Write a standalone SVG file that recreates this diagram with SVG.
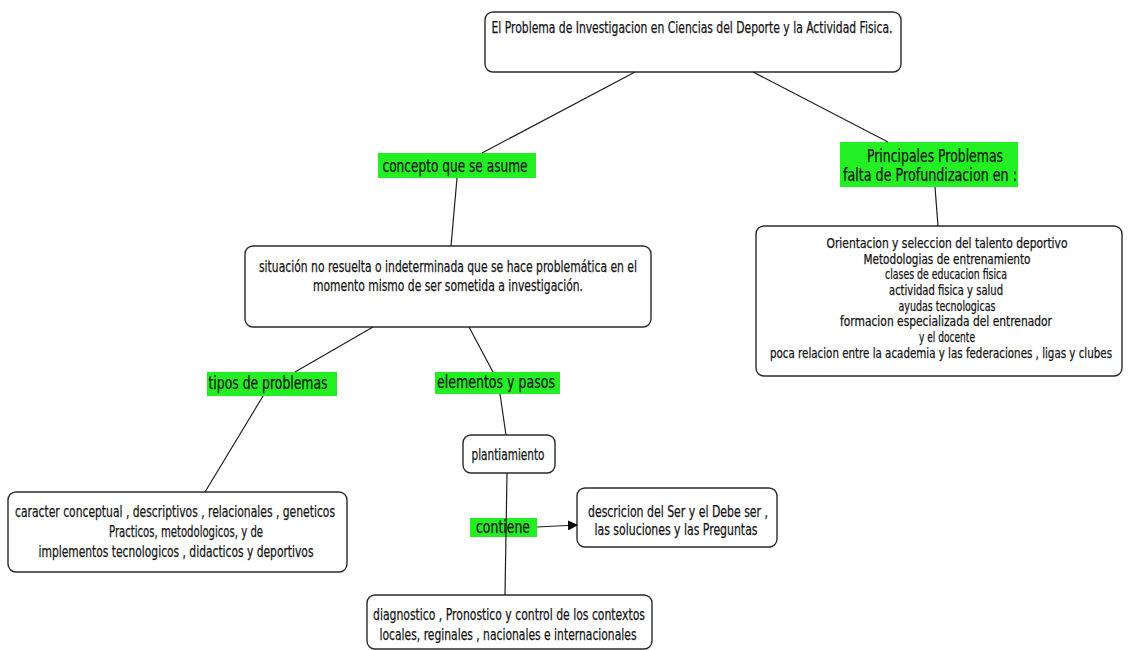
<svg xmlns="http://www.w3.org/2000/svg" width="1131" height="650" viewBox="0 0 1131 650">
<style>
.box{fill:#fff;stroke:#2b2b2b;stroke-width:1.4}
.lbl{fill:#22f022;stroke:none}
.t,.tl,.ts{font-family:"DejaVu Sans Condensed","DejaVu Sans","Liberation Sans",sans-serif;font-stretch:condensed;fill:#151515;stroke:#151515;stroke-width:0.25;text-anchor:middle}
.t{font-size:15px}
.ts{font-size:14px}
.tl{font-size:17px}
.c{stroke:#1e1e1e;stroke-width:1.2;fill:none}
</style>
<defs>
<marker id="arr" markerWidth="10" markerHeight="10" refX="9" refY="5" orient="auto" markerUnits="userSpaceOnUse">
<path d="M0,0 L10,5 L0,10 Z" fill="#000"/>
</marker>
</defs>
<rect width="1131" height="650" fill="#fff"/>

<g id="n-title">
<rect class="box" x="485" y="12" width="416" height="60" rx="8"/>
<text class="t" x="692" y="33" textLength="401" lengthAdjust="spacingAndGlyphs">El Problema de Investigacion en Ciencias del Deporte y la Actividad Fisica.</text>
</g>

<g id="n-concepto">
<rect class="lbl" x="378" y="153" width="158" height="25"/>
<text class="tl" x="455" y="172" textLength="145" lengthAdjust="spacingAndGlyphs">concepto que se asume</text>
</g>

<g id="n-principales">
<rect class="lbl" x="840" y="142" width="178" height="45"/>
<text class="tl" x="935" y="162" textLength="136" lengthAdjust="spacingAndGlyphs">Principales Problemas</text>
<text class="tl" x="930" y="181" textLength="174" lengthAdjust="spacingAndGlyphs">falta de Profundizacion en :</text>
</g>

<g id="n-situacion">
<rect class="box" x="245" y="246" width="406" height="81" rx="8"/>
<text class="t" x="448" y="272" textLength="378" lengthAdjust="spacingAndGlyphs">situación no resuelta o indeterminada que se hace problemática en el</text>
<text class="t" x="448" y="291" textLength="270" lengthAdjust="spacingAndGlyphs">momento mismo de ser sometida a investigación.</text>
</g>

<g id="n-lista">
<rect class="box" x="756" y="226" width="366" height="150" rx="8"/>
<text class="ts" x="947" y="248" textLength="241" lengthAdjust="spacingAndGlyphs">Orientacion y seleccion del talento deportivo</text>
<text class="ts" x="947" y="264" textLength="167" lengthAdjust="spacingAndGlyphs">Metodologias de entrenamiento</text>
<text class="ts" x="946" y="279" textLength="122" lengthAdjust="spacingAndGlyphs">clases de educacion fisica</text>
<text class="ts" x="946" y="295" textLength="114" lengthAdjust="spacingAndGlyphs">actividad fisica y salud</text>
<text class="ts" x="947" y="311" textLength="97" lengthAdjust="spacingAndGlyphs">ayudas tecnologicas</text>
<text class="ts" x="946" y="326" textLength="212" lengthAdjust="spacingAndGlyphs">formacion especializada del entrenador</text>
<text class="ts" x="947" y="342" textLength="56" lengthAdjust="spacingAndGlyphs">y el docente</text>
<text class="ts" x="941" y="358" textLength="342" lengthAdjust="spacingAndGlyphs">poca relacion entre la academia y las federaciones , ligas y clubes</text>
</g>

<g id="n-tipos">
<rect class="lbl" x="207" y="372" width="130" height="24"/>
<text class="tl" x="268" y="389" textLength="119" lengthAdjust="spacingAndGlyphs">tipos de problemas</text>
</g>

<g id="n-elementos">
<rect class="lbl" x="435" y="372" width="125" height="22"/>
<text class="tl" x="496" y="388" textLength="118" lengthAdjust="spacingAndGlyphs">elementos y pasos</text>
</g>

<g id="n-caracter">
<rect class="box" x="8" y="492" width="339" height="80" rx="8"/>
<text class="t" x="175" y="517" textLength="320" lengthAdjust="spacingAndGlyphs">caracter conceptual , descriptivos , relacionales , geneticos</text>
<text class="t" x="186" y="537" textLength="154" lengthAdjust="spacingAndGlyphs">Practicos, metodologicos, y de</text>
<text class="t" x="176" y="557" textLength="275" lengthAdjust="spacingAndGlyphs">implementos tecnologicos , didacticos y deportivos</text>
</g>

<g id="n-plantiamiento">
<rect class="box" x="463" y="435" width="92" height="38" rx="8"/>
<text class="t" x="508" y="460" textLength="73" lengthAdjust="spacingAndGlyphs">plantiamiento</text>
</g>

<g id="n-contiene">
<rect class="lbl" x="470" y="518" width="67" height="19"/>
<text class="tl" x="503" y="533" textLength="54" lengthAdjust="spacingAndGlyphs">contiene</text>
</g>

<g id="n-descricion">
<rect class="box" x="577" y="488" width="200" height="59" rx="8"/>
<text class="t" x="678" y="517" textLength="180" lengthAdjust="spacingAndGlyphs">descricion del Ser y el Debe ser ,</text>
<text class="t" x="676" y="535" textLength="163" lengthAdjust="spacingAndGlyphs">las soluciones y las Preguntas</text>
</g>

<g id="n-diagnostico">
<rect class="box" x="367" y="595" width="285" height="54" rx="8"/>
<text class="t" x="509" y="620" textLength="272" lengthAdjust="spacingAndGlyphs">diagnostico , Pronostico y control de los contextos</text>
<text class="t" x="508" y="640" textLength="257" lengthAdjust="spacingAndGlyphs">locales, reginales , nacionales e internacionales</text>
</g>

<g id="connectors">
<line class="c" x1="635" y1="72" x2="482" y2="153"/>
<line class="c" x1="753" y1="72" x2="888" y2="142"/>
<line class="c" x1="457" y1="178" x2="451" y2="246"/>
<line class="c" x1="935" y1="187" x2="938" y2="226"/>
<line class="c" x1="373" y1="327" x2="295" y2="372"/>
<line class="c" x1="469" y1="327" x2="493" y2="372"/>
<line class="c" x1="263" y1="396" x2="205" y2="492"/>
<line class="c" x1="500" y1="394" x2="506" y2="435"/>
<line class="c" x1="507" y1="473" x2="505" y2="595"/>
<line class="c" x1="537" y1="527" x2="577" y2="525" stroke-width="1.6" marker-end="url(#arr)"/>
</g>
</svg>
